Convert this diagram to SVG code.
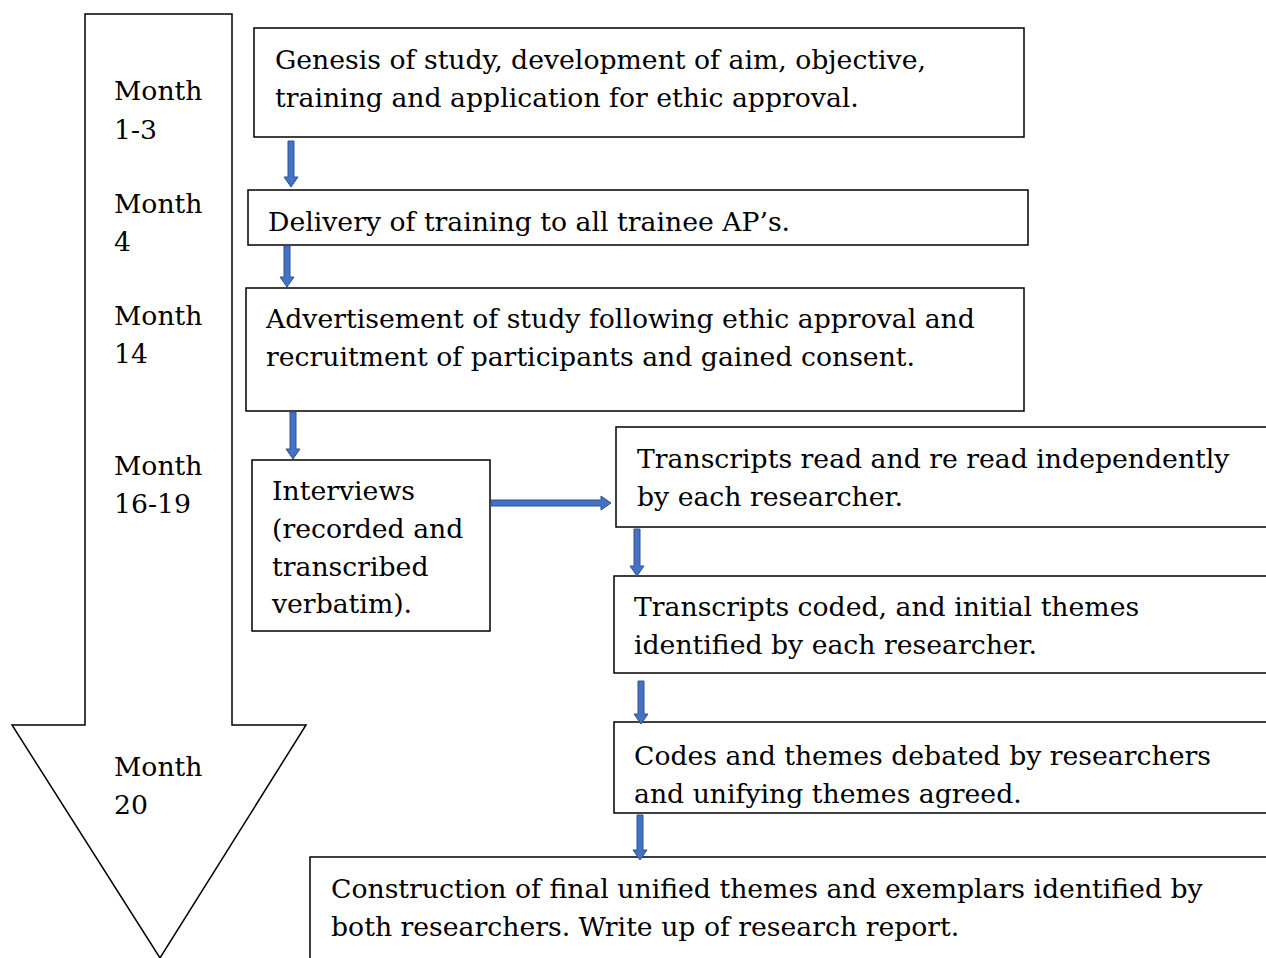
<svg xmlns="http://www.w3.org/2000/svg" width="1266" height="958" viewBox="0 0 1266 958">
<style>
.box{fill:#fff;stroke:#000;stroke-width:1.5}
.t{font-family:"DejaVu Serif","Liberation Serif",serif;font-size:26.7px;fill:#000}
.ar{fill:#4472C4;stroke:#2F528F;stroke-width:1}
</style>
<rect width="1266" height="958" fill="#fff"/>
<g id="timeline">
<polygon class="box" points="85,14 232,14 232,725 306,725 160,958 12,725 85,725"/>
<text class="t" x="114" y="100">Month</text><text class="t" x="114" y="139">1-3</text>
<text class="t" x="114" y="213">Month</text><text class="t" x="114" y="251">4</text>
<text class="t" x="114" y="325">Month</text><text class="t" x="114" y="363">14</text>
<text class="t" x="114" y="475">Month</text><text class="t" x="114" y="513">16-19</text>
<text class="t" x="114" y="776">Month</text><text class="t" x="114" y="814">20</text>
</g>
<g id="n1"><rect class="box" x="254" y="28" width="770" height="109"/>
<text class="t" x="275" y="69">Genesis of study, development of aim, objective,</text>
<text class="t" x="275" y="107">training and application for ethic approval.</text></g>
<g id="n2"><rect class="box" x="248" y="190" width="780" height="55"/>
<text class="t" x="268" y="231">Delivery of training to all trainee AP’s.</text></g>
<g id="n3"><rect class="box" x="246" y="288" width="778" height="123"/>
<text class="t" x="266" y="328">Advertisement of study following ethic approval and</text>
<text class="t" x="266" y="366">recruitment of participants and gained consent.</text></g>
<g id="n4"><rect class="box" x="252" y="460" width="238" height="171"/>
<text class="t" x="272" y="500">Interviews</text>
<text class="t" x="272" y="538">(recorded and</text>
<text class="t" x="272" y="576">transcribed</text>
<text class="t" x="272" y="613">verbatim).</text></g>
<g id="n5"><rect class="box" x="616" y="427" width="660" height="100"/>
<text class="t" x="637" y="468">Transcripts read and re read independently</text>
<text class="t" x="637" y="506">by each researcher.</text></g>
<g id="n6"><rect class="box" x="614" y="576" width="660" height="97"/>
<text class="t" x="634" y="616">Transcripts coded, and initial themes</text>
<text class="t" x="634" y="654">identified by each researcher.</text></g>
<g id="n7"><rect class="box" x="614" y="722" width="660" height="91"/>
<text class="t" x="634" y="765">Codes and themes debated by researchers</text>
<text class="t" x="634" y="803">and unifying themes agreed.</text></g>
<g id="n8"><rect class="box" x="310" y="857" width="966" height="110"/>
<text class="t" x="331" y="898">Construction of final unified themes and exemplars identified by</text>
<text class="t" x="331" y="936">both researchers. Write up of research report.</text></g>
<g id="connectors">
<polygon class="ar" points="288,141 294,141 294,177 298,177 291,187 284,177 288,177"/>
<polygon class="ar" points="284,246 290,246 290,277 294,277 287,287 280,277 284,277"/>
<polygon class="ar" points="290,412 296,412 296,449 300,449 293,459 286,449 290,449"/>
<polygon class="ar" points="491,500 601,500 601,496 611,503 601,510 601,506 491,506"/>
<polygon class="ar" points="634,529 640,529 640,566 644,566 637,576 630,566 634,566"/>
<polygon class="ar" points="638,681 644,681 644,714 648,714 641,724 634,714 638,714"/>
<polygon class="ar" points="637,815 643,815 643,850 647,850 640,860 633,850 637,850"/>
</g>
</svg>
